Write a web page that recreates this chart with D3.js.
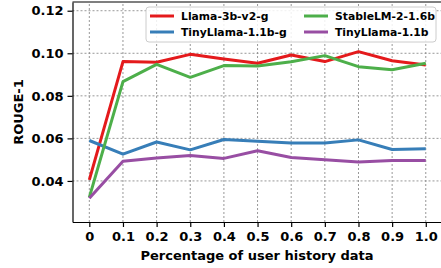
<!DOCTYPE html>
<html>
<head>
<meta charset="utf-8">
<script src="https://cdn.jsdelivr.net/npm/d3@7"></script>
<style>
  body { margin: 0; background: #fff; }
  svg text { font-family: "DejaVu Sans", sans-serif; font-weight: bold; }
</style>
</head>
<body>
<figure id="chart" style="margin:0"></figure>
<script>
// data
const xValues = [0, 0.1, 0.2, 0.3, 0.4, 0.5, 0.6, 0.7, 0.8, 0.9, 1.0];
const xTickLabels = ['0', '0.1', '0.2', '0.3', '0.4', '0.5', '0.6', '0.7', '0.8', '0.9', '1.0'];
const yTicks = [0.04, 0.06, 0.08, 0.10, 0.12];

const llama3b = [0.0405, 0.0961, 0.0958, 0.0995, 0.0973, 0.0953, 0.0992, 0.0961, 0.1008, 0.0965, 0.0945];
const stableLM = [0.0323, 0.0867, 0.0948, 0.0887, 0.0942, 0.0940, 0.0960, 0.0989, 0.0937, 0.0923, 0.0953];
const tinyLlamaG = [0.0590, 0.0526, 0.0583, 0.0546, 0.0595, 0.0586, 0.0578, 0.0578, 0.0593, 0.0548, 0.0551];
const tinyLlama = [0.0319, 0.0492, 0.0508, 0.0520, 0.0506, 0.0542, 0.0510, 0.0500, 0.0489, 0.0496, 0.0496];

const seriesNames = ['Llama-3b-v2-g', 'StableLM-2-1.6b', 'TinyLlama-1.1b-g', 'TinyLlama-1.1b'];

const width = 441, height = 268;
const margin = { left: 72.5, top: 2, bottom: 46 };

const series = [
  { name: seriesNames[0], values: llama3b, color: '#e41a1c' },
  { name: seriesNames[2], values: tinyLlamaG, color: '#377eb8' },
  { name: seriesNames[1], values: stableLM, color: '#4daf4a' },
  { name: seriesNames[3], values: tinyLlama, color: '#984ea3' }
];

const svg = d3.select('#chart').append('svg')
  .attr('width', width)
  .attr('height', height);

const x = d3.scaleLinear().domain([-0.05, 1.05]).range([margin.left, 442.6]);
const y = d3.scaleLinear().domain([0.0207, 0.1241]).range([height - margin.bottom, margin.top]);

// grid
svg.append('g')
  .selectAll('line.vg')
  .data(xValues)
  .enter().append('line')
  .attr('x1', d => x(d)).attr('x2', d => x(d))
  .attr('y1', y.range()[0]).attr('y2', y.range()[1])
  .attr('stroke', '#8c8c8c').attr('stroke-width', 0.9)
  .attr('stroke-dasharray', '2,2');

svg.append('g')
  .selectAll('line.hg')
  .data(yTicks)
  .enter().append('line')
  .attr('x1', x.range()[0]).attr('x2', x.range()[1])
  .attr('y1', d => y(d)).attr('y2', d => y(d))
  .attr('stroke', '#8c8c8c').attr('stroke-width', 0.9)
  .attr('stroke-dasharray', '2,2');

// lines
const line = d3.line()
  .x((d, i) => x(xValues[i]))
  .y(d => y(d));

svg.append('g')
  .selectAll('path')
  .data(series)
  .enter().append('path')
  .attr('d', d => line(d.values))
  .attr('fill', 'none')
  .attr('stroke', d => d.color)
  .attr('stroke-width', 3)
  .attr('stroke-linejoin', 'round');

// axes
const xAxis = svg.append('g')
  .attr('transform', 'translate(0,' + y.range()[0] + ')')
  .call(d3.axisBottom(x).tickValues(xValues).tickFormat((d, i) => xTickLabels[i]).tickSize(5).tickPadding(5).tickSizeOuter(0));

const yAxis = svg.append('g')
  .attr('transform', 'translate(' + x.range()[0] + ',0)')
  .call(d3.axisLeft(y).tickValues(yTicks).tickFormat(d3.format('.2f')).tickSize(5).tickPadding(4).tickSizeOuter(0));

[xAxis, yAxis].forEach(a => {
  a.selectAll('text').style('font-size', '13px').attr('fill', '#000');
  a.selectAll('line').attr('stroke', '#000').attr('stroke-width', 1.2);
  a.select('.domain').attr('stroke', '#000').attr('stroke-width', 1.2);
});

// top spine
svg.append('line')
  .attr('x1', x.range()[0]).attr('x2', x.range()[1])
  .attr('y1', y.range()[1]).attr('y2', y.range()[1])
  .attr('stroke', '#000').attr('stroke-width', 1.2);

// axis titles
svg.append('text')
  .attr('x', 257).attr('y', 260)
  .attr('text-anchor', 'middle')
  .style('font-size', '13px')
  .text('Percentage of user history data');

svg.append('text')
  .attr('transform', 'translate(23,' + ((y.range()[0] + y.range()[1]) / 2) + ') rotate(-90)')
  .attr('text-anchor', 'middle')
  .style('font-size', '13px')
  .text('ROUGE-1');

// legend
const legend = svg.append('g');
legend.append('rect')
  .attr('x', 146).attr('y', 7).attr('width', 290).attr('height', 35)
  .attr('rx', 3)
  .attr('fill', 'rgba(255,255,255,0.85)')
  .attr('stroke', '#cccccc');

const legendItems = [
  { s: series[0], lx: 150, ly: 16 },
  { s: series[1], lx: 150, ly: 32 },
  { s: series[2], lx: 304, ly: 16 },
  { s: series[3], lx: 304, ly: 32 }
];

const li = legend.selectAll('g.item')
  .data(legendItems)
  .enter().append('g');

li.append('line')
  .attr('x1', d => d.lx).attr('x2', d => d.lx + 24)
  .attr('y1', d => d.ly).attr('y2', d => d.ly)
  .attr('stroke', d => d.s.color)
  .attr('stroke-width', 3);

li.append('text')
  .attr('x', d => d.lx + 31)
  .attr('y', d => d.ly + 4)
  .style('font-size', '10.8px')
  .text(d => d.s.name);
</script>
</body>
</html>
